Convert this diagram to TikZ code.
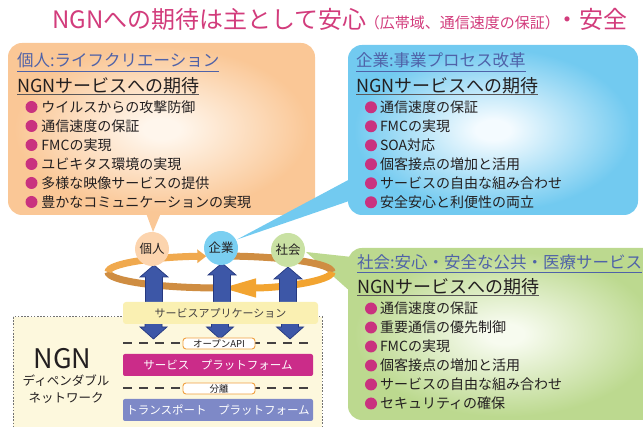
\documentclass[tikz,border=0pt]{standalone}
\usepackage{fontspec}
\setmainfont{Noto Sans CJK JP}
\usetikzlibrary{arrows.meta}
\definecolor{titlec}{HTML}{D23C7C}
\definecolor{oinner}{HTML}{FFF6EC}
\definecolor{oouter}{HTML}{FAC796}
\definecolor{binner}{HTML}{F4FBFF}
\definecolor{bouter}{HTML}{72CAF0}
\definecolor{ginner}{HTML}{F7FBEF}
\definecolor{gouter}{HTML}{BCD98F}
\definecolor{headc}{HTML}{4F62A8}
\definecolor{txtc}{HTML}{231F20}
\definecolor{bulc}{HTML}{C9327F}
\definecolor{ringL}{HTML}{F0A94E}
\definecolor{ringD}{HTML}{CF8D42}
\definecolor{ringB}{HTML}{F2A431}
\definecolor{bluef}{HTML}{3D57A7}
\definecolor{bluel}{HTML}{26397F}
\definecolor{ckojin}{HTML}{FCD4AE}
\definecolor{ckigyo}{HTML}{7ACFF1}
\definecolor{cshakai}{HTML}{C9E1A3}
\definecolor{appc}{HTML}{FAF0B2}
\definecolor{ngnbg}{HTML}{FDF8DD}
\definecolor{spc}{HTML}{CB2C89}
\definecolor{tpc}{HTML}{7E89C7}
\definecolor{lblc}{HTML}{F0A040}
\pgfdeclareradialshading{orshade}{\pgfpoint{0bp}{0bp}}{color(0bp)=(oinner); color(3bp)=(oinner); color(24bp)=(oouter); color(50bp)=(oouter)}
\pgfdeclareradialshading{blshade}{\pgfpoint{0bp}{0bp}}{color(0bp)=(binner); color(3bp)=(binner); color(24bp)=(bouter); color(50bp)=(bouter)}
\pgfdeclareradialshading{grshade}{\pgfpoint{0bp}{0bp}}{color(0bp)=(ginner); color(3bp)=(ginner); color(24bp)=(gouter); color(50bp)=(gouter)}
\tikzset{
  every node/.style={inner sep=0pt, outer sep=0pt, text=txtc},
  head/.style={anchor=west, text=headc, font=\fontsize{16.5}{18}\selectfont},
  ngnline/.style={anchor=west, font=\fontsize{18}{20}\selectfont},
  item/.style={anchor=west, font=\fontsize{14}{16}\selectfont},
  ulhead/.style={draw=headc, line width=0.9pt},
  ulngn/.style={draw=txtc!75, line width=0.9pt},
  bul/.style={fill=bulc},
  actor/.style={circle, minimum size=34pt, font=\fontsize{12.5}{14}\selectfont},
  barrow/.style={fill=bluef, draw=bluel, line width=0.7pt, line join=miter},
  band/.style={line width=7pt},
  platform/.style={minimum width=190pt, minimum height=22pt, rounded corners=2pt, text=white, font=\fontsize{11.5}{13}\selectfont},
  sep/.style={draw=txtc!85, line width=1.3pt, dash pattern=on 9pt off 7pt},
  lbl/.style={draw=lblc, fill=white, line width=0.9pt, rounded corners=3pt, minimum width=72pt, minimum height=11pt, font=\fontsize{9.5}{10}\selectfont},
}
\begin{document}
\begin{tikzpicture}[x=1pt,y=-1pt]
\useasboundingbox (0,0) rectangle (643,427);
% title
\node[text=titlec] (title) at (340,19) {{\fontsize{24}{26}\selectfont NGNへの期待は主として安心}{\fontsize{15}{16}\selectfont \kern-2pt（広帯域、通信速度の保証）\kern-4pt}{\fontsize{24}{26}\selectfont ・安全}};
% bubbles
\shade[shading=orshade, rounded corners=14pt] (8,43) rectangle (315,215);
\fill[oouter] (146,213) -- (153,232) -- (161,213) -- cycle;
\shade[shading=blshade, rounded corners=14pt] (348,45) rectangle (638,215);
\fill[bouter] (352,178) -- (237,239.5) -- (352,200) -- cycle;
\shade[shading=grshade, rounded corners=14pt] (348,248) rectangle (662,420);
\fill[gouter] (352,257) -- (306,252) -- (352,293) -- cycle;
% orange texts
\node[head] (oh) at (17,60) {個人:ライフクリエーション};
\draw[ulhead] (oh.west |- 0,71.5) -- (oh.east |- 0,71.5);
\node[ngnline] (on) at (17,85.5) {NGNサービスへの期待};
\draw[ulngn] (on.west |- 0,94.5) -- (on.east |- 0,94.5);
\foreach \t [count=\i] in {ウイルスからの攻撃防御,通信速度の保証,FMCの実現,ユビキタス環境の実現,多様な映像サービスの提供,豊かなコミュニケーションの実現}{
  \fill[bul] (31.5,{88+19*\i}) circle (6pt);
  \node[item] (o\i) at (41.5,{88+19*\i}) {\t};
}
% blue texts
\node[head] (bh) at (356,60) {企業:事業プロセス改革};
\draw[ulhead] (bh.west |- 0,71.5) -- (bh.east |- 0,71.5);
\node[ngnline] (bn) at (356,85.5) {NGNサービスへの期待};
\draw[ulngn] (bn.west |- 0,94.5) -- (bn.east |- 0,94.5);
\foreach \t [count=\i] in {通信速度の保証,FMCの実現,SOA対応,個客接点の増加と活用,サービスの自由な組み合わせ,安全安心と利便性の両立}{
  \fill[bul] (371,{88.3+19*\i}) circle (6pt);
  \node[item] (b\i) at (380,{88.3+19*\i}) {\t};
}
% green texts
\node[head] (gh) at (357,262) {社会:安心・安全な公共・医療サービス};
\draw[ulhead] (gh.west |- 0,272.5) -- (gh.east |- 0,272.5);
\node[ngnline] (gn) at (357,287) {NGNサービスへの期待};
\draw[ulngn] (gn.west |- 0,295.5) -- (gn.east |- 0,295.5);
\foreach \t [count=\i] in {通信速度の保証,重要通信の優先制御,FMCの実現,個客接点の増加と活用,サービスの自由な組み合わせ,セキュリティの確保}{
  \fill[bul] (371,{289.5+19*\i}) circle (6pt);
  \node[item] (g\i) at (380,{289.5+19*\i}) {\t};
}
% NGN region
\filldraw[fill=ngnbg, draw=black!55, line width=1pt, dash pattern=on 1.6pt off 1.6pt] (13,317) rectangle (322,440);
\node[font=\fontsize{27}{28}\selectfont] (ngn) at (62.5,359) {NGN};
\node[font=\fontsize{12.5}{14}\selectfont] (dep) at (66,381) {ディペンダブル};
\node[font=\fontsize{12.5}{14}\selectfont] (net) at (66,398) {ネットワーク};
% ring
\draw[band, ringD] (108,272) arc[start angle=180, end angle=92, x radius=112, y radius=16];
\draw[band, ringD] (332,272) arc[start angle=360, end angle=274, x radius=112, y radius=16];
\draw[band, ringL, -{Triangle[length=9pt,width=13pt]}] (108,272) arc[start angle=180, end angle=263, x radius=112, y radius=16];
\draw[band, ringB, -{Triangle[length=36pt,width=17pt]}] (332,272) arc[start angle=0, end angle=90, x radius=112, y radius=16];
% up arrows
\foreach \cx/\ty in {154/265, 222/263, 288/267}{
  \draw[barrow] (\cx-8.5,306) -- (\cx-8.5,\ty+12) -- (\cx-14,\ty+12) -- (\cx,\ty) -- (\cx+14,\ty+12) -- (\cx+8.5,\ty+12) -- (\cx+8.5,306) -- cycle;
}
% down arrows
\foreach \cx in {153.5, 220, 290}{
  \draw[barrow] (\cx-8.5,321) -- (\cx-8.5,327) -- (\cx-13.5,327) -- (\cx,339) -- (\cx+13.5,327) -- (\cx+8.5,327) -- (\cx+8.5,321) -- cycle;
}
% actors
\node[actor, fill=ckojin] (kojin) at (152,249) {個人};
\node[actor, fill=ckigyo] (kigyo) at (221,248) {企業};
\node[actor, fill=cshakai] (shakai) at (288,250) {社会};
% service application
\node[fill=appc, rounded corners=3pt, minimum width=195pt, minimum height=22pt, font=\fontsize{11}{12}\selectfont, text=txtc!85] (app) at (220.5,313) {サービスアプリケーション};
% platforms
\draw[sep] (123,343) -- (313,343);
\node[lbl] (api) at (219,343.5) {オープンAPI};
\node[platform, fill=spc] (sp) at (218,365) {サービス　プラットフォーム};
\draw[sep] (123,388) -- (313,388);
\node[lbl] (bunri) at (219,388.5) {分離};
\node[platform, fill=tpc] (tp) at (218,410) {トランスポート　プラットフォーム};
\end{tikzpicture}
\end{document}
